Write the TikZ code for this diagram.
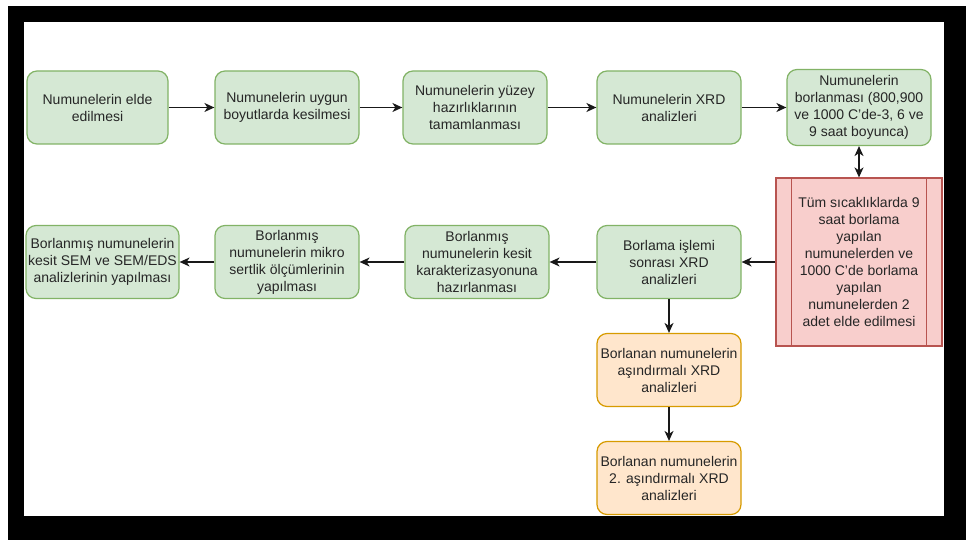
\documentclass[tikz,border=0pt]{standalone}
\usepackage{fontspec}
\setmainfont{Liberation Sans}
\usetikzlibrary{positioning,arrows.meta}
\definecolor{boxgreen}{HTML}{D5E8D4}
\definecolor{linegreen}{HTML}{82B366}
\definecolor{boxorange}{HTML}{FFE6CC}
\definecolor{lineorange}{HTML}{D79B00}
\definecolor{boxred}{HTML}{F8CECC}
\definecolor{linered}{HTML}{B85450}

\begin{document}
\begin{tikzpicture}[x=1pt,y=-1pt,node distance=190pt,on grid,
    every node/.style={font=\fontsize{14pt}{17pt}\selectfont,text=black!85,align=center,inner sep=2pt},
    greenbox/.style={draw=linegreen,fill=boxgreen,line width=1.2pt,rounded corners=10pt,minimum width=144pt,minimum height=73pt},
    orangebox/.style={draw=lineorange,fill=boxorange,line width=1.2pt,rounded corners=10pt,minimum width=144pt,minimum height=73pt},
    redbox/.style={draw=linered,fill=boxred,line width=1.2pt,minimum width=166pt,minimum height=168pt},
    flow/.style={-{Stealth[length=10pt,width=9pt,inset=3pt]},line width=1.5pt,black!90}]
       % frame
       \fill[white] (0,0) rectangle (966,540);
       \useasboundingbox (0,0) rectangle (966,540);
       \fill[black] (8,6) rectangle (966,540);
       \fill[white] (24,22) rectangle (944,516);

       \node [greenbox,minimum width=141pt] (n_1) at (97.5,107.5) {Numunelerin elde\\edilmesi};
       \node [greenbox, right=189.5pt of n_1] (n_2) {Numunelerin uygun\\boyutlarda kesilmesi};
       \node [greenbox, right=188pt of n_2] (n_3) {Numunelerin yüzey\\hazırlıklarının\\tamamlanması};
       \node [greenbox, right=194pt of n_3] (n_4) {Numunelerin XRD\\analizleri};
       \node [greenbox, right of=n_4, minimum height=76pt] (n_5) {Numunelerin\\borlanması (800,900\\ve 1000 C'de-3, 6 ve\\9 saat boyunca)};

       \node [redbox, below=154.5pt of n_5] (r_1) {Tüm sıcaklıklarda 9\\saat borlama\\yapılan\\numunelerden ve\\1000 C'de borlama\\yapılan\\numunelerden 2\\adet elde edilmesi};
       \draw [linered,line width=1.2pt] ([xshift=16pt]r_1.north west) -- ([xshift=16pt]r_1.south west)
             ([xshift=-16pt]r_1.north east) -- ([xshift=-16pt]r_1.south east);

       \node [greenbox, below=154.5pt of n_4] (b_4) {Borlama işlemi\\sonrası XRD\\analizleri};
       \node [greenbox, left=192pt of b_4] (b_3) {Borlanmış\\numunelerin kesit\\karakterizasyonuna\\hazırlanması};
       \node [greenbox, left=190pt of b_3] (b_2) {Borlanmış\\numunelerin mikro\\sertlik ölçümlerinin\\yapılması};
       \node [greenbox, left=184.5pt of b_2, minimum width=153pt] (b_1) {Borlanmış numunelerin\\kesit SEM ve SEM/EDS\\analizlerinin yapılması};

       \node [orangebox, below=108pt of b_4] (o_1) {Borlanan numunelerin\\aşındırmalı XRD\\analizleri};
       \node [orangebox, below=108pt of o_1] (o_2) {Borlanan numunelerin\\2. aşındırmalı XRD\\analizleri};

        \path[flow]
        (n_1) edge (n_2)
        (n_2) edge (n_3)
        (n_3) edge (n_4)
        (n_4) edge (n_5)
        (n_5) edge [{Stealth[length=10pt,width=9pt,inset=3pt]}-{Stealth[length=10pt,width=9pt,inset=3pt]}] (r_1)
        (r_1) edge (b_4)
        (b_4) edge (b_3)
              edge (o_1)
        (b_3) edge (b_2)
        (b_2) edge (b_1)
        (o_1) edge (o_2);
    \end{tikzpicture}
\end{document}
